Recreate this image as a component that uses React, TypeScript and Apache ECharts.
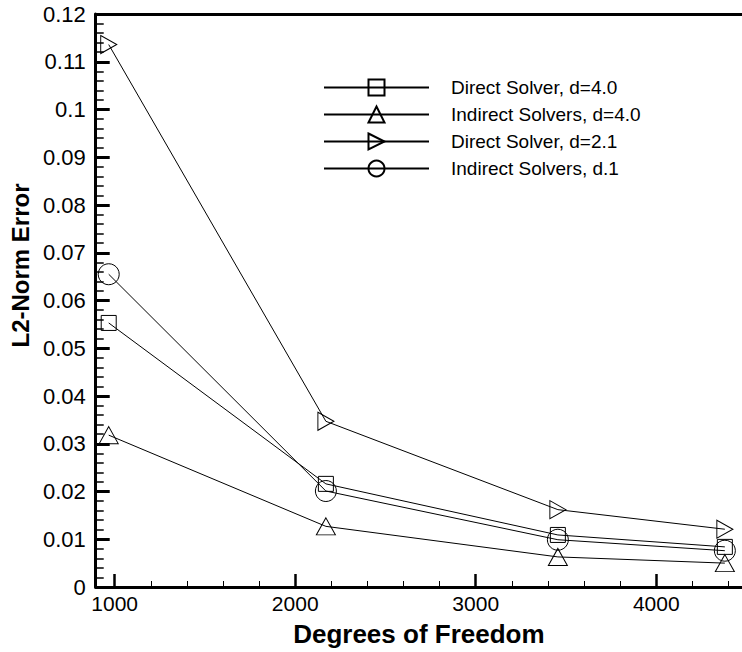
import React, { useEffect, useRef } from "react";
import * as echarts from "echarts";

const seriesNames = [
  "Direct Solver, d=4.0",
  "Indirect Solvers, d=4.0",
  "Direct Solver, d=2.1",
  "Indirect Solvers, d.1",
];
const dofValues = [967, 2170, 3455, 4380];
const directD40 = [0.0553, 0.0216, 0.0109, 0.0084];
const indirectD40 = [0.0318, 0.0127, 0.0063, 0.005];
const directD21 = [0.1136, 0.0347, 0.0162, 0.0121];
const indirectD1 = [0.0655, 0.0201, 0.0099, 0.0076];
const xMajorTicks = [1000, 2000, 3000, 4000];
const xMinorTicks = [
  1200, 1400, 1600, 1800, 2200, 2400, 2600, 2800, 3200, 3400, 3600, 3800, 4200, 4400,
];

const FONT = "'Liberation Sans', Arial, Helvetica, sans-serif";
const X_MIN = 895;
const X_MAX = 4475;

export default function App() {
  const ref = useRef<HTMLDivElement>(null);
  useEffect(() => {
    if (!ref.current) return;
    const chart = echarts.init(ref.current, null, { renderer: "svg" });
    const toPts = (vals: number[]) => dofValues.map((x, i) => [x, vals[i]]);
    const symbols = [
      { symbol: "rect", size: 15 },
      { symbol: "triangle", size: [19, 17] },
      { symbol: "path://M0,0L1,0.5L0,1Z", size: [16, 18] },
      { symbol: "circle", size: 21 },
    ];
    const allVals = [directD40, indirectD40, directD21, indirectD1];
    chart.setOption({
      animation: false,
      backgroundColor: "#fff",
      textStyle: { fontFamily: FONT, color: "#000" },
      grid: { left: 95, right: 0, top: 14, bottom: 54 },
      legend: {
        orient: "vertical",
        left: 323,
        top: 78,
        padding: 0,
        itemWidth: 105,
        itemHeight: 20,
        itemGap: 8,
        textStyle: { fontSize: 19, color: "#000", fontFamily: FONT, padding: [0, 0, 0, 17] },
        data: seriesNames,
      },
      xAxis: [
        {
          type: "value",
          min: X_MIN,
          max: X_MAX,
          position: "bottom",
          name: "Degrees of Freedom",
          nameLocation: "middle",
          nameGap: 34,
          nameTextStyle: { fontSize: 26, fontWeight: "bold", color: "#000", fontFamily: FONT },
          axisLine: { show: true, lineStyle: { color: "#000", width: 3 } },
          axisTick: {
            show: true,
            inside: true,
            length: 13,
            customValues: xMajorTicks,
            lineStyle: { color: "#000", width: 2.5 },
          },
          axisLabel: {
            show: true,
            customValues: xMajorTicks,
            fontSize: 21,
            color: "#000",
            margin: 6,
            fontFamily: FONT,
            formatter: (v: number) => String(v),
          },
          splitLine: { show: false },
        },
        {
          type: "value",
          min: X_MIN,
          max: X_MAX,
          position: "bottom",
          axisLine: { show: false },
          axisTick: {
            show: true,
            inside: true,
            length: 6,
            customValues: xMinorTicks,
            lineStyle: { color: "#000", width: 1 },
          },
          axisLabel: { show: false },
          splitLine: { show: false },
        },
        {
          type: "value",
          min: X_MIN,
          max: X_MAX,
          position: "top",
          axisLine: { show: true, lineStyle: { color: "#000", width: 3 } },
          axisTick: { show: false },
          axisLabel: { show: false },
          splitLine: { show: false },
        },
      ],
      yAxis: {
        type: "value",
        min: 0,
        max: 0.12,
        interval: 0.01,
        position: "left",
        name: "L2-Norm Error",
        nameLocation: "middle",
        nameGap: 56,
        nameTextStyle: {
          fontSize: 24,
          fontWeight: "bold",
          color: "#000",
          fontFamily: FONT,
          padding: [0, 0, 0, 70],
        },
        axisLine: { show: true, lineStyle: { color: "#000", width: 3 } },
        axisTick: { show: true, inside: true, length: 14, lineStyle: { color: "#000", width: 3 } },
        minorTick: { show: true, splitNumber: 5, length: 8, lineStyle: { color: "#000", width: 1.5 } },
        axisLabel: {
          fontSize: 22,
          color: "#000",
          margin: 10,
          fontFamily: FONT,
          formatter: (v: number) => String(parseFloat(v.toFixed(4))),
        },
        splitLine: { show: false },
      },
      series: seriesNames.map((name, i) => ({
        name,
        type: "line",
        xAxisIndex: 0,
        yAxisIndex: 0,
        data: toPts(allVals[i]),
        symbol: symbols[i].symbol,
        symbolSize: symbols[i].size,
        showAllSymbol: true,
        lineStyle: { color: "#000", width: 1 },
        itemStyle: { color: "rgba(0,0,0,0)", borderColor: "#000", borderWidth: 1 },
        emphasis: { disabled: true },
      })),
    });
    return () => chart.dispose();
  }, []);
  return (
    <div
      ref={ref}
      style={{ position: "fixed", left: 0, top: 0, width: 742, height: 652 }}
    />
  );
}
